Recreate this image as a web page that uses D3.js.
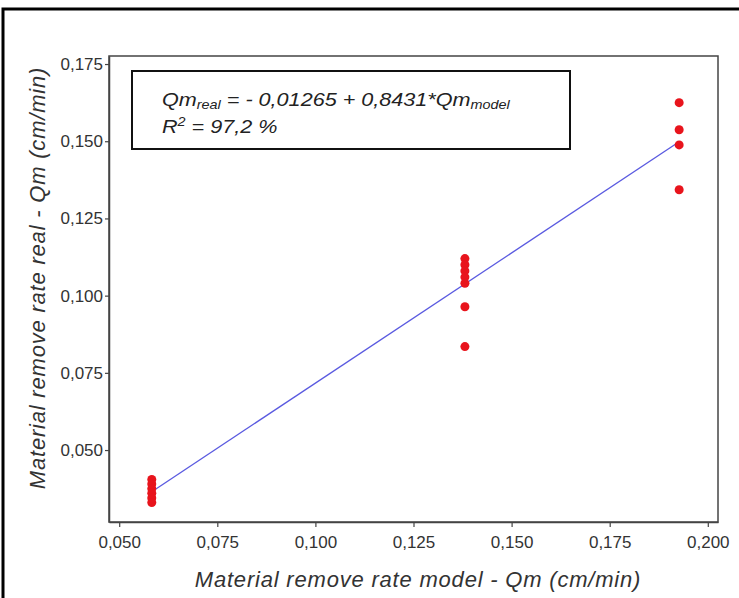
<!DOCTYPE html>
<html>
<head>
<meta charset="utf-8">
<script src="https://cdn.jsdelivr.net/npm/d3@7"></script>
<style>
  body { margin: 0; background: #fff; }
  .tick text { font-family: "Liberation Sans", Arial, sans-serif; font-size: 17px; fill: #333; }
  .axisLabel { font-family: "Liberation Sans", Arial, sans-serif; font-style: italic; font-size: 22px; letter-spacing: 0.8px; fill: #333; }
  .eq { font-family: "Liberation Sans", Arial, sans-serif; font-style: italic; font-size: 18px; fill: #222; }
</style>
</head>
<body>
<div class="chart"></div>
<script>
// chart data
var xModel = [0.0583, 0.0583, 0.0583, 0.0583, 0.0583, 0.0583,
  0.1381, 0.1381, 0.1381, 0.1381, 0.1381, 0.1381, 0.1381,
  0.1927, 0.1927, 0.1927, 0.1927];
var yReal = [0.0405, 0.0390, 0.0375, 0.0360, 0.0345, 0.0330,
  0.1120, 0.1100, 0.1080, 0.1060, 0.1040, 0.0964, 0.0835,
  0.1625, 0.1537, 0.1488, 0.1343];
var fitIntercept = -0.01265;
var fitSlope = 0.8431;
var fitRange = [0.0583, 0.1927];
var xTicks = [0.050, 0.075, 0.100, 0.125, 0.150, 0.175, 0.200];
var yTicks = [0.050, 0.075, 0.100, 0.125, 0.150, 0.175];

var svgWidth = 739;
var svgHeight = 598;
var margin = { top: 56, right: 21, bottom: 76, left: 109 };
var width = svgWidth - margin.left - margin.right;
var height = svgHeight - margin.top - margin.bottom;

var svg = d3.select(".chart").append("svg")
  .attr("width", svgWidth)
  .attr("height", svgHeight);

// outer frame
svg.append("rect")
  .attr("x", 3).attr("y", 9)
  .attr("width", 760).attr("height", 620)
  .attr("fill", "none").attr("stroke", "#000").attr("stroke-width", 3);

var chartGroup = svg.append("g")
  .attr("transform", `translate(${margin.left}, ${margin.top})`);

var xScale = d3.scaleLinear().domain([0.0474, 0.2026]).range([0, width]);
var yScale = d3.scaleLinear().domain([0.0267, 0.1776]).range([height, 0]);

var fmt = d => d3.format(".3f")(d).replace(".", ",");

// plot frame
chartGroup.append("rect")
  .attr("width", width).attr("height", height)
  .attr("fill", "none").attr("stroke", "#444").attr("stroke-width", 1.5);

var bottomAxis = d3.axisBottom(xScale).tickValues(xTicks).tickFormat(fmt).tickSize(5).tickSizeOuter(0);
var leftAxis = d3.axisLeft(yScale).tickValues(yTicks).tickFormat(fmt).tickSize(4).tickSizeOuter(0);

var xAxis = chartGroup.append("g").attr("transform", `translate(0, ${height})`).call(bottomAxis);
var yAxis = chartGroup.append("g").call(leftAxis);
[xAxis, yAxis].forEach(function(a) {
  a.select(".domain").attr("stroke", "#444").attr("stroke-width", 1.5);
  a.selectAll(".tick line").attr("stroke", "#444").attr("stroke-width", 1.2);
});
xAxis.selectAll(".tick text").attr("dy", "1.05em");
yAxis.selectAll(".tick text").attr("x", -6);

// fitted line
var line = d3.line()
  .x(d => xScale(d))
  .y(d => yScale(fitIntercept + fitSlope * d));
chartGroup.append("path")
  .datum(fitRange)
  .attr("d", line)
  .attr("fill", "none")
  .attr("stroke", "#5a5ae0")
  .attr("stroke-width", 1.3);

// points
chartGroup.selectAll("circle.pt")
  .data(xModel)
  .enter().append("circle")
  .attr("class", "pt")
  .attr("cx", d => xScale(d))
  .attr("cy", (d, i) => yScale(yReal[i]))
  .attr("r", 4.5)
  .attr("fill", "#e8141c");

// equation box
var box = svg.append("g").attr("transform", "translate(132, 71)");
box.append("rect")
  .attr("width", 438).attr("height", 78)
  .attr("fill", "#fff").attr("stroke", "#111").attr("stroke-width", 2);
var t1 = box.append("text").attr("class", "eq")
  .attr("transform", "translate(30, 35) scale(1.2, 1)");
t1.append("tspan").text("Qm");
t1.append("tspan").attr("font-size", "12px").attr("dy", 3).text("real");
t1.append("tspan").attr("dy", -3).text(" = - 0,01265 + 0,8431*Qm");
t1.append("tspan").attr("font-size", "12px").attr("dy", 3).text("model");
var t2 = box.append("text").attr("class", "eq")
  .attr("transform", "translate(30, 62) scale(1.2, 1)");
t2.append("tspan").text("R");
t2.append("tspan").attr("font-size", "12px").attr("dy", -7).text("2");
t2.append("tspan").attr("dy", 7).text(" = 97,2 %");

// axis labels
svg.append("text")
  .attr("class", "axisLabel")
  .attr("text-anchor", "middle")
  .attr("x", 418).attr("y", 587)
  .text("Material remove rate model - Qm (cm/min)");

svg.append("text")
  .attr("class", "axisLabel")
  .attr("text-anchor", "middle")
  .attr("transform", "translate(45, 278) rotate(-90)")
  .text("Material remove rate real - Qm (cm/min)");
</script>
</body>
</html>
